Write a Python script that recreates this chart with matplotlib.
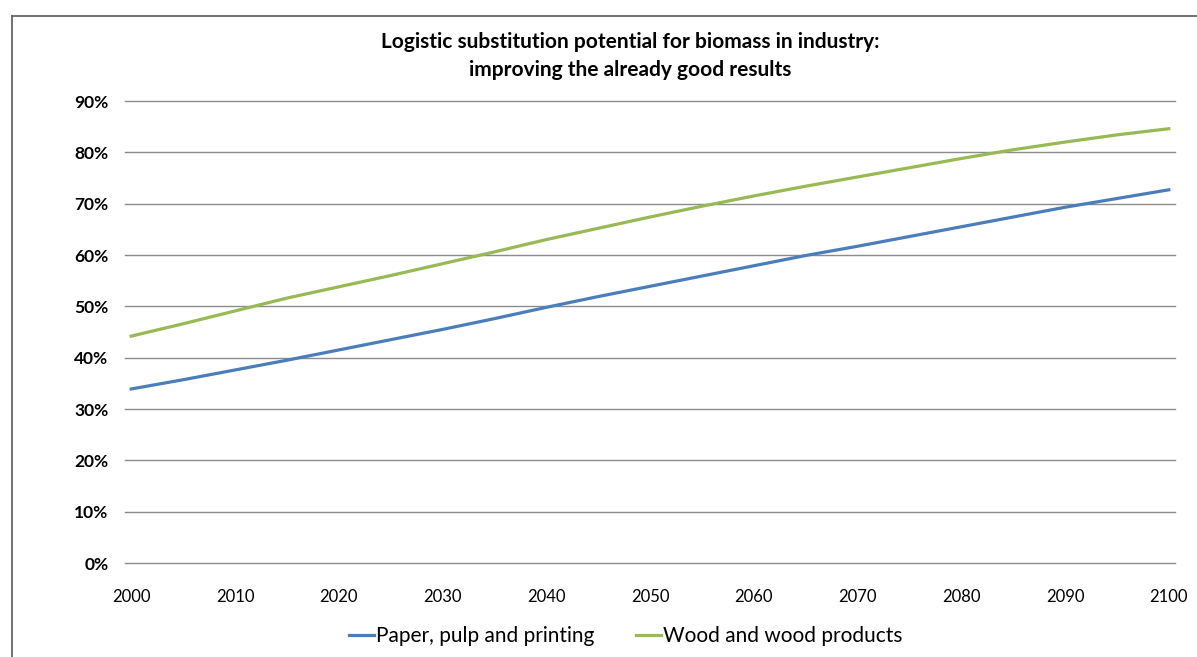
import matplotlib.pyplot as plt
from matplotlib.lines import Line2D

plt.rcParams['font.family'] = ['Lato', 'DejaVu Sans']

# values, every 5 years (share of substitution)
years = [2000, 2005, 2010, 2015, 2020, 2025, 2030, 2035, 2040, 2045, 2050,
         2055, 2060, 2065, 2070, 2075, 2080, 2085, 2090, 2095, 2100]
paper = [33.9, 35.7, 37.6, 39.5, 41.5, 43.5, 45.5, 47.6, 49.8, 51.9, 53.9,
         55.9, 57.9, 59.9, 61.7, 63.6, 65.5, 67.4, 69.3, 71.0, 72.7]
wood = [44.2, 46.6, 49.1, 51.6, 53.8, 56.0, 58.3, 60.6, 63.0, 65.2, 67.4,
        69.5, 71.5, 73.4, 75.2, 77.0, 78.8, 80.5, 82.0, 83.4, 84.6]
xticks = list(range(2000, 2101, 10))
yticks = list(range(0, 91, 10))

fig = plt.figure(figsize=(11.97, 6.57), dpi=100)
ax = fig.add_axes([125 / 1197, 1 - 563 / 657, 1050 / 1197, 462 / 657])

ax.plot(years, paper, color='#4A7EBB', lw=2.3, label='Paper, pulp and printing')
ax.plot(years, wood, color='#98B954', lw=2.3, label='Wood and wood products')

ax.set_xlim(1999.4, 2100.6)
ax.set_ylim(0, 90)
ax.set_xticks(xticks)
ax.set_yticks(yticks)
ax.set_yticklabels([f'{v}%' for v in yticks], fontweight='bold')
ax.tick_params(axis='y', length=0, pad=12, labelsize=12.5)
ax.tick_params(axis='x', length=0, pad=19, labelsize=12)
ax.grid(axis='y', color='#8c8c8c', lw=1)
for gl in ax.get_ygridlines():
    gl.set_clip_on(False)
ax.set_axisbelow(True)
for s in ax.spines.values():
    s.set_visible(False)

fig.text(630 / 1197, 1 - 42 / 657, 'Logistic substitution potential for biomass in industry:',
         ha='center', va='center', fontsize=15, fontweight='bold')
fig.text(630 / 1197, 1 - 70 / 657, 'improving the already good results',
         ha='center', va='center', fontsize=15, fontweight='bold')

fig.legend(loc='center', bbox_to_anchor=(626 / 1197, 1 - 636 / 657), ncol=2,
           frameon=False, fontsize=15, handlelength=1.2, handletextpad=0.1,
           columnspacing=2.0)

# chart border (left and top edges visible)
fig.add_artist(Line2D([12 / 1197, 12 / 1197], [0, 1 - 16 / 657],
                      transform=fig.transFigure, color='#595959', lw=1.2))
fig.add_artist(Line2D([12 / 1197, 1], [1 - 16 / 657, 1 - 16 / 657],
                      transform=fig.transFigure, color='#595959', lw=1.2))

plt.savefig('out.png', dpi=100)
